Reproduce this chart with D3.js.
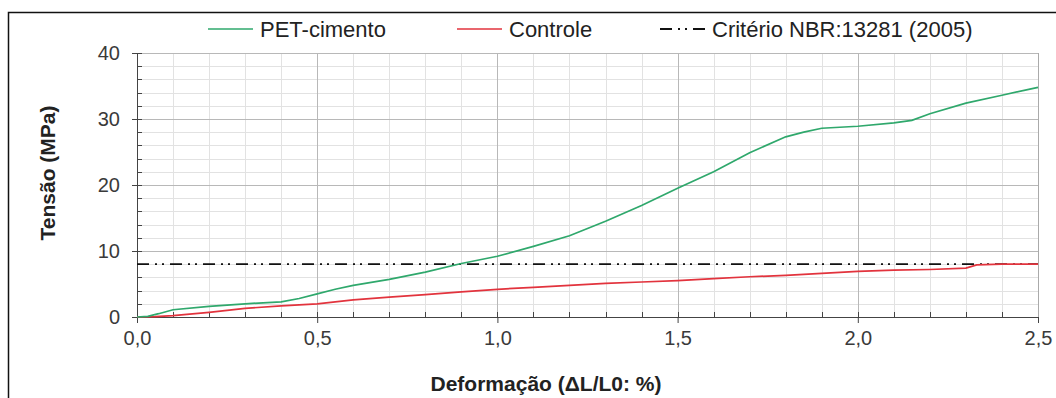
<!DOCTYPE html>
<html lang="pt">
<head>
<meta charset="utf-8">
<title>Tensão x Deformação</title>
<script src="https://d3js.org/d3.v7.min.js"></script>
<style>
  body { margin: 0; background: #fff; }
  text { font-family: "Liberation Sans", Arial, sans-serif; }
</style>
</head>
<body>
<script>

// data
var petStrain = [0, 0.03, 0.06, 0.1, 0.2, 0.3, 0.4, 0.45, 0.5, 0.55, 0.6, 0.7, 0.8, 0.9, 1.0, 1.1, 1.2, 1.3, 1.4, 1.5, 1.6, 1.7, 1.8, 1.85, 1.9, 2.0, 2.1, 2.15, 2.2, 2.3, 2.4, 2.5];
var petStress = [0, 0.1, 0.5, 1.1, 1.6, 2.0, 2.3, 2.8, 3.5, 4.2, 4.8, 5.7, 6.8, 8.1, 9.2, 10.7, 12.3, 14.5, 16.9, 19.5, 22.0, 24.9, 27.3, 28.0, 28.6, 28.9, 29.4, 29.8, 30.8, 32.4, 33.6, 34.8];

var ctrlStrain = [0, 0.05, 0.1, 0.2, 0.3, 0.4, 0.5, 0.6, 0.7, 0.8, 0.9, 1.0, 1.1, 1.2, 1.3, 1.4, 1.5, 1.6, 1.7, 1.8, 1.9, 2.0, 2.1, 2.2, 2.3, 2.33, 2.4, 2.5];
var ctrlStress = [0, 0.05, 0.2, 0.7, 1.3, 1.7, 2.0, 2.6, 3.0, 3.4, 3.8, 4.2, 4.5, 4.8, 5.1, 5.3, 5.5, 5.8, 6.1, 6.3, 6.6, 6.9, 7.1, 7.2, 7.4, 7.9, 8.0, 8.0];

var criterio = 8; // NBR 13281 (2005)

var xTicks = [0, 0.5, 1.0, 1.5, 2.0, 2.5];
var yTicks = [0, 10, 20, 30, 40];

var series = [
  {name: "PET-cimento", color: "#2fa86c", dash: null},
  {name: "Controle", color: "#e2333d", dash: null},
  {name: "Critério NBR:13281 (2005)", color: "#111", dash: "12,6,2,5,2,6"}
];

var W = 1056, H = 398;
var margin = {top: 53, right: 18, bottom: 81, left: 137};
var width = W - margin.left - margin.right,
    height = H - margin.top - margin.bottom;

var svg = d3.select("body").append("svg")
    .attr("width", W)
    .attr("height", H);

// outer frame
svg.append("rect")
    .attr("x", 8.5).attr("y", 12.5)
    .attr("width", W + 20).attr("height", H + 20)
    .attr("fill", "none")
    .attr("stroke", "#111")
    .attr("stroke-width", 1.5);

var g = svg.append("g")
    .attr("transform", "translate(" + margin.left + "," + margin.top + ")");

var x = d3.scaleLinear().domain([0, 2.5]).range([0, width]);
var y = d3.scaleLinear().domain([0, 40]).range([height, 0]);

// grid
var xMinor = d3.range(0, 2.501, 0.1);
var yMinor = d3.range(0, 40.01, 2);

g.append("g").selectAll("line")
  .data(xMinor)
  .enter().append("line")
    .attr("x1", function(d){ return Math.round(x(d)) + 0.5; })
    .attr("x2", function(d){ return Math.round(x(d)) + 0.5; })
    .attr("y1", 0).attr("y2", height)
    .attr("stroke", "#e2e2e2");

g.append("g").selectAll("line")
  .data(yMinor)
  .enter().append("line")
    .attr("y1", function(d){ return Math.round(y(d)) + 0.5; })
    .attr("y2", function(d){ return Math.round(y(d)) + 0.5; })
    .attr("x1", 0).attr("x2", width)
    .attr("stroke", "#e2e2e2");

g.append("g").selectAll("line")
  .data(xTicks)
  .enter().append("line")
    .attr("x1", function(d){ return Math.round(x(d)) + 0.5; })
    .attr("x2", function(d){ return Math.round(x(d)) + 0.5; })
    .attr("y1", 0).attr("y2", height)
    .attr("stroke", "#b8b8b8");

g.append("g").selectAll("line")
  .data(yTicks)
  .enter().append("line")
    .attr("y1", function(d){ return Math.round(y(d)) + 0.5; })
    .attr("y2", function(d){ return Math.round(y(d)) + 0.5; })
    .attr("x1", 0).attr("x2", width)
    .attr("stroke", "#b8b8b8");

// minor ticks (inside)
g.append("g").selectAll("line")
  .data(xMinor)
  .enter().append("line")
    .attr("x1", function(d){ return Math.round(x(d)) + 0.5; })
    .attr("x2", function(d){ return Math.round(x(d)) + 0.5; })
    .attr("y1", height).attr("y2", height - 5)
    .attr("stroke", "#444");

g.append("g").selectAll("line")
  .data(yMinor)
  .enter().append("line")
    .attr("y1", function(d){ return Math.round(y(d)) + 0.5; })
    .attr("y2", function(d){ return Math.round(y(d)) + 0.5; })
    .attr("x1", 0).attr("x2", 5)
    .attr("stroke", "#444");

// axes
var xAxis = g.append("g")
    .attr("transform", "translate(0," + height + ")")
    .call(d3.axisBottom(x).tickValues(xTicks).tickSize(6).tickPadding(8)
      .tickFormat(function(d){ return d3.format(".1f")(d).replace(".", ","); }));

var yAxis = g.append("g")
    .call(d3.axisLeft(y).tickValues(yTicks).tickSize(5).tickPadding(12));

[xAxis, yAxis].forEach(function(a){
  a.select(".domain").attr("stroke", "#444");
  a.selectAll(".tick line").attr("stroke", "#444");
  a.selectAll("text")
    .attr("fill", "#3a3a3a")
    .style("font-size", "20px")
    .style("font-family", "'Liberation Sans', Arial, sans-serif");
});

// right border of plot
g.append("line")
    .attr("x1", width + 0.5).attr("x2", width + 0.5)
    .attr("y1", 0).attr("y2", height)
    .attr("stroke", "#aaa");

// criterion line
g.append("line")
    .attr("x1", 0).attr("x2", width)
    .attr("y1", y(criterio)).attr("y2", y(criterio))
    .attr("stroke", series[2].color)
    .attr("stroke-width", 1.8)
    .attr("stroke-dasharray", series[2].dash);

var line = d3.line()
    .x(function(d){ return x(d[0]); })
    .y(function(d){ return y(d[1]); });

g.append("path")
    .datum(d3.zip(ctrlStrain, ctrlStress))
    .attr("d", line)
    .attr("fill", "none")
    .attr("stroke", series[1].color)
    .attr("stroke-width", 1.7);

g.append("path")
    .datum(d3.zip(petStrain, petStress))
    .attr("d", line)
    .attr("fill", "none")
    .attr("stroke", series[0].color)
    .attr("stroke-width", 1.7);

// legend
var legendX = [208, 457, 660];
var legend = svg.append("g");
series.forEach(function(s, i){
  legend.append("line")
      .attr("x1", legendX[i]).attr("x2", legendX[i] + (i == 2 ? 50 : 45))
      .attr("y1", 29).attr("y2", 29)
      .attr("stroke", s.color)
      .attr("stroke-width", i == 2 ? 1.8 : 1.7)
      .attr("stroke-dasharray", i == 2 ? "12,6,2,5,2,6" : null);
  legend.append("text")
      .attr("x", legendX[i] + 52)
      .attr("y", 37)
      .attr("font-size", "22px")
      .attr("fill", "#222")
      .text(s.name);
});

// axis titles
svg.append("text")
    .attr("x", 546)
    .attr("y", 391)
    .attr("text-anchor", "middle")
    .attr("font-size", "21px")
    .attr("font-weight", "bold")
    .attr("fill", "#222")
    .text("Deformação (ΔL/L0: %)");

svg.append("text")
    .attr("transform", "translate(55,173) rotate(-90)")
    .attr("text-anchor", "middle")
    .attr("font-size", "21px")
    .attr("font-weight", "bold")
    .attr("fill", "#222")
    .text("Tensão (MPa)");

</script>
</body>
</html>
